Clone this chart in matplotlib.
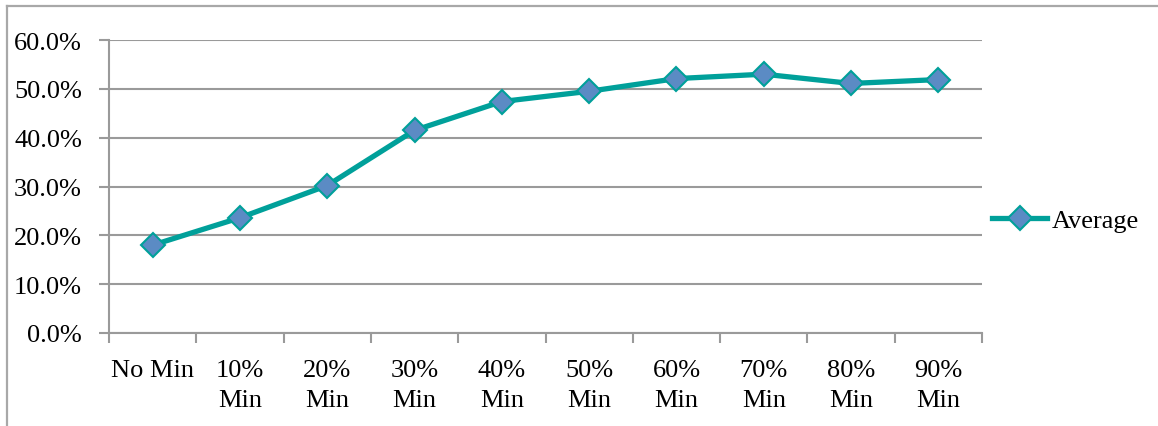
import matplotlib
matplotlib.use("Agg")
import matplotlib.pyplot as plt
from matplotlib.ticker import FixedLocator, FuncFormatter
from matplotlib.lines import Line2D

# Average share per minimum threshold
categories = ["No Min", "10%\nMin", "20%\nMin", "30%\nMin", "40%\nMin",
              "50%\nMin", "60%\nMin", "70%\nMin", "80%\nMin", "90%\nMin"]
average = [0.180, 0.236, 0.302, 0.415, 0.474, 0.495, 0.521, 0.530, 0.511, 0.519]
y_ticks = [0.0, 0.1, 0.2, 0.3, 0.4, 0.5, 0.6]

W, H = 1158, 427
plt.rcParams['font.family'] = ['Liberation Serif', 'DejaVu Serif']
plt.rcParams['font.size'] = 19

grey = "#9a9a9a"
teal = "#00a09a"
blue = "#5b8bc4"

fig = plt.figure(figsize=(W / 100, H / 100), dpi=100)
ax = fig.add_axes([109 / W, 1 - 334 / H, (982 - 109) / W, (334 - 41) / H])

x = list(range(len(categories)))
ax.plot(x, average, color=teal, lw=3.8, marker="D", ms=12,
        mfc=blue, mec=teal, mew=1.5, label="Average", zorder=3)

ax.set_xlim(-0.5, len(categories) - 0.5)
ax.set_ylim(0, 0.6)

# category ticks sit between the labels, labels on minor ticks
ax.xaxis.set_major_locator(FixedLocator([i - 0.5 for i in range(len(categories) + 1)]))
ax.xaxis.set_major_formatter(FuncFormatter(lambda v, p: ""))
ax.xaxis.set_minor_locator(FixedLocator(x))
ax.set_xticklabels(categories, minor=True)
ax.tick_params(axis="x", which="major", length=7, width=1.5, color=grey, direction="out")
ax.tick_params(axis="x", which="minor", length=0, pad=19)

ax.set_yticks(y_ticks)
ax.yaxis.set_major_formatter(FuncFormatter(lambda v, p: "{0:.1f}%".format(v * 100)))
ax.tick_params(axis="y", length=7, width=1.5, color=grey, direction="out", pad=12.5)

ax.grid(axis="y", color=grey, lw=1.5)
ax.set_axisbelow(True)
for side in ["top", "right"]:
    ax.spines[side].set_visible(False)
for side in ["left", "bottom"]:
    ax.spines[side].set_color(grey)
    ax.spines[side].set_linewidth(1.5)

for lab in ax.get_xticklabels(minor=True):
    lab.set_linespacing(1.45)

fig.legend(loc="center left", bbox_to_anchor=(992 / W, 1 - 221 / H), frameon=False,
           handlelength=2.1, handletextpad=0.15, borderpad=0, borderaxespad=0)

# outer chart frame (only top and left edges fall inside the image)
fig.add_artist(Line2D([7 / W, 7 / W], [0, 1 - 7 / H], transform=fig.transFigure,
                      color="#a8a8a8", lw=1.6))
fig.add_artist(Line2D([7 / W, 1], [1 - 7 / H, 1 - 7 / H], transform=fig.transFigure,
                      color="#a8a8a8", lw=1.6))

fig.savefig("out.png", dpi=100)
